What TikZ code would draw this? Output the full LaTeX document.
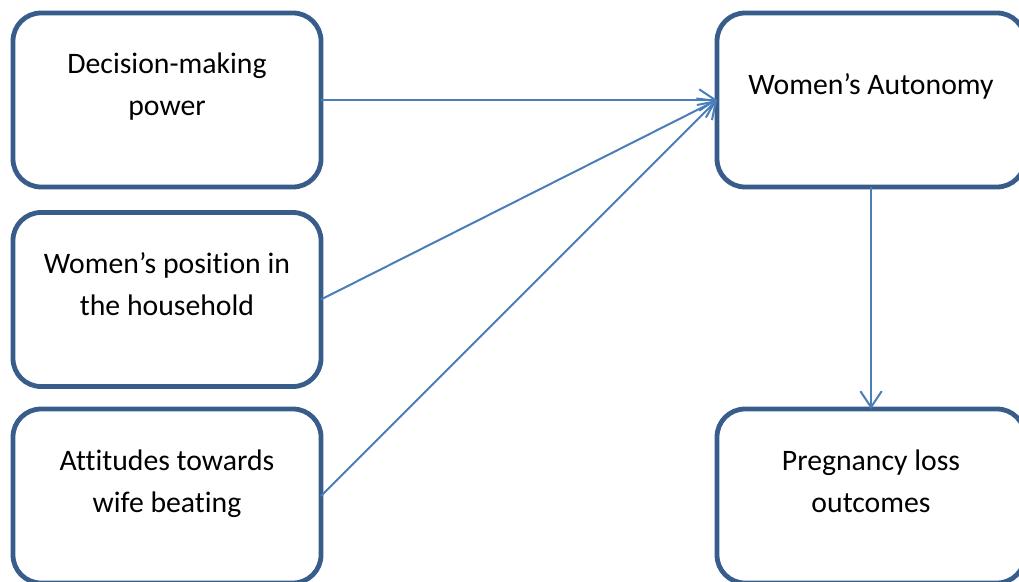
\documentclass[tikz,border=0pt]{standalone}
\usepackage{fontspec}
\setmainfont{Carlito}[Ligatures=NoCommon]
\usetikzlibrary{arrows.meta}
\definecolor{boxline}{HTML}{385D8A}
\definecolor{arrline}{HTML}{4A7EBB}
\begin{document}
\begin{tikzpicture}[x=0.75pt,y=-0.75pt,inner sep=0pt,outer sep=0pt,
factorbox/.style={draw=boxline,rectangle,rounded corners=21pt,line width=3.6pt,minimum width=231pt,minimum height=130.5pt},
boxtext/.style={align=center,anchor=base,font=\fontsize{22.3}{31.5}\selectfont},
link/.style={draw=arrline,line width=1.5pt,-{Straight Barb[length=12pt,width=16pt]}}]

\useasboundingbox (0,0) rectangle (1019,581);

\draw (167,100) node[factorbox] (dec) {};
\draw (167,299.5) node[factorbox] (pos) {};
\draw (167,496) node[factorbox] (att) {};
\draw (871,100) node[factorbox] (aut) {};
\draw (871,496) node[factorbox] (preg) {};

\node[boxtext] (dectxt) at (167,116) {Decision-making\\power};
\node[boxtext] (postxt) at (167,315) {Women’s position in\\the household};
\node[boxtext] (atttxt) at (167,512) {Attitudes towards\\wife beating};
\node[boxtext] (auttxt) at (871,95) {Women’s Autonomy};
\node[boxtext] (pregtxt) at (871,512) {Pregnancy loss\\outcomes};

\draw[link] (dec.east) -- (aut.west);
\draw[link] (pos.east) -- (aut.west);
\draw[link] (att.east) -- (aut.west);
\draw[link] (aut.south) -- (preg.north);
\end{tikzpicture}
\end{document}
